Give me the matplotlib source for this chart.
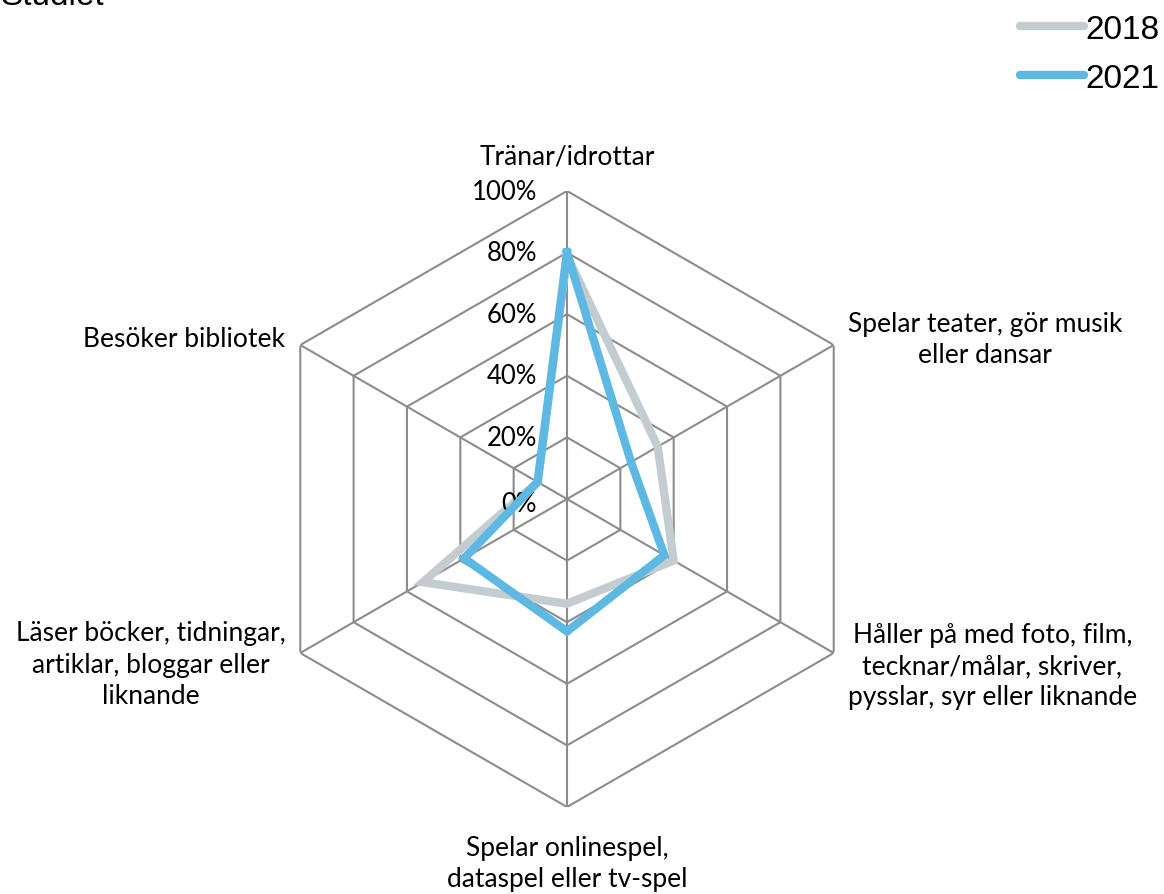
import matplotlib.pyplot as plt
import numpy as np
from matplotlib.lines import Line2D

# Data
categories = ['Tränar/idrottar',
              'Spelar teater, gör musik\neller dansar',
              'Håller på med foto, film,\ntecknar/målar, skriver,\npysslar, syr eller liknande',
              'Spelar onlinespel,\ndataspel eller tv-spel',
              'Läser böcker, tidningar,\nartiklar, bloggar eller\nliknande',
              'Besöker bibliotek']
values_2018 = [0.79, 0.34, 0.40, 0.34, 0.54, 0.11]
values_2021 = [0.80, 0.24, 0.365, 0.43, 0.385, 0.11]
levels = [0.0, 0.2, 0.4, 0.6, 0.8, 1.0]
level_labels = ['0%', '20%', '40%', '60%', '80%', '100%']

grey = '#C3CDD1'
blue = '#5DB9E4'
grid_col = '#8C8C8C'
cat_font = 'Lato'
leg_font = 'Liberation Sans'

W, H = 1164, 895
fig = plt.figure(figsize=(W / 100, H / 100), dpi=100)

# polar axes centred at (567, 500) px with radius 308 px
cx, cy, R = 567, 500, 308
ax = fig.add_axes([(cx - R) / W, (H - cy - R) / H, 2 * R / W, 2 * R / H], projection='polar')
ax.set_theta_offset(np.pi / 2)
ax.set_theta_direction(-1)
ax.set_ylim(0, 1)
ax.grid(False)
ax.spines['polar'].set_visible(False)
ax.set_xticks([])
ax.set_yticks([])
ax.patch.set_alpha(0)

n = len(categories)
angles = np.arange(n) * 2 * np.pi / n
closed = np.append(angles, angles[0])

# hexagonal grid
for lv in levels[1:]:
    ax.plot(closed, [lv] * (n + 1), color=grid_col, lw=1.5, zorder=1)
for a in angles:
    ax.plot([a, a], [0, 1], color=grid_col, lw=1.5, zorder=1)

# series
ax.plot(closed, values_2018 + values_2018[:1], color=grey, lw=6, zorder=3,
        solid_joinstyle='miter')
ax.plot(closed, values_2021 + values_2021[:1], color=blue, lw=6, zorder=4,
        solid_joinstyle='miter')

# radial tick labels
for lv, lab in zip(levels, level_labels):
    ax.annotate(lab, xy=(0, lv), xytext=(-30, 0 if lv > 0 else -5),
                textcoords='offset pixels', ha='right', va='center',
                fontsize=18.5, family=cat_font, color='black')

# category labels
offsets = [(0, 35, 'center'), (14, 6, 'left'), (14, -13, 'left'),
           (0, -56, 'center'), (-15, -11, 'right'), (-15, 6, 'right')]
for a, cat, (dx, dy, ha) in zip(angles, categories, offsets):
    ax.annotate(cat, xy=(a, 1), xytext=(dx, dy), textcoords='offset pixels',
                ha=ha, va='center', multialignment='center', fontsize=19,
                family=cat_font, color='black', linespacing=1.3)

# legend
handles = [Line2D([], [], color=grey, lw=6, solid_capstyle='round'),
           Line2D([], [], color=blue, lw=6, solid_capstyle='round')]
fig.legend(handles, ['2018', '2021'], loc='upper right',
           bbox_to_anchor=(1.0 + 12 / W, 1.0 + 2 / H), frameon=False,
           prop={'family': leg_font, 'size': 24}, handlelength=1.9,
           handletextpad=0.05, labelspacing=0.55, borderaxespad=0.1)

# title cut off at the top
fig.text(0, 1 + 19 / H, 'Studiet', ha='left', va='top',
         fontsize=24, family=leg_font, color='black')

fig.savefig('out.png', dpi=100, facecolor='white')
